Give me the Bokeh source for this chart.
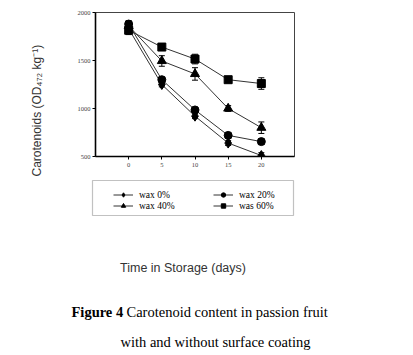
import numpy as np
from bokeh.plotting import figure
from bokeh.layouts import column
from bokeh.models import (ColumnDataSource, Whisker, TeeHead, Legend, LegendItem,
                          Label, FixedTicker, BoxAnnotation, Range1d, Title)
from bokeh.embed import file_html
from bokeh.resources import INLINE

days = [0, 5, 10, 15, 20]
wax0 = [1830, 1250, 920, 640, 510]
wax0_err = [40, 25, 25, 25, 30]
wax20 = [1880, 1300, 985, 720, 655]
wax20_err = [35, 25, 25, 25, 30]
wax40 = [1860, 1495, 1360, 1000, 800]
wax40_err = [40, 55, 65, 30, 60]
wax60 = [1815, 1640, 1515, 1300, 1260]
wax60_err = [45, 25, 50, 25, 60]
series_labels = ["wax 0%", "wax 20%", "wax 40%", "was 60%"]
series_markers = ["diamond", "circle", "triangle", "square"]
marker_sizes = [10, 8, 9, 8]
x_ticks = [0, 5, 10, 15, 20]
y_ticks = [500, 1000, 1500, 2000]

y_title = "Carotenoids (OD\u2084\u2087\u2082 kg\u207b\u00b9)"
x_title = "Time in Storage (days)"
cap_bold = "Figure 4"
cap_rest = "Carotenoid content in passion fruit"
cap_line2 = "with  and without surface coating"

SERIF = "Liberation Serif"
SANS = "Liberation Sans"

# ---------------- main chart ----------------
p = figure(width=413, height=178, x_range=(-5, 25), y_range=(500, 2000),
           output_backend="svg", toolbar_location=None, frame_align=False,
           min_border_left=92, min_border_right=119,
           min_border_top=12, min_border_bottom=22)
p.xgrid.visible = False
p.ygrid.visible = False
p.outline_line_color = "#444444"
p.outline_line_width = 1

for ax, ticks in ((p.xaxis, x_ticks), (p.yaxis, y_ticks)):
    ax.ticker = FixedTicker(ticks=ticks)
    ax.minor_tick_line_color = None
    ax.major_tick_in = 0
    ax.major_tick_out = 3
    ax.axis_line_width = 1.6
    ax.axis_line_color = "black"
    ax.major_tick_line_color = "black"
    ax.major_label_text_font = SERIF
    ax.major_label_text_font_size = "6.5px"
    ax.major_label_text_color = "#444444"
p.yaxis.major_label_standoff = 2
p.xaxis.major_label_standoff = 3

p.add_layout(Title(text=y_title, align="left", offset=-20, standoff=58,
                   vertical_align="top",
                   text_font=SANS, text_font_size="12px",
                   text_font_style="normal", text_color="#333333"), "left")

all_vals = [wax0, wax20, wax40, wax60]
all_errs = [wax0_err, wax20_err, wax40_err, wax60_err]
for vals, errs, mk, ms in zip(all_vals, all_errs, series_markers, marker_sizes):
    src = ColumnDataSource(dict(
        x=days, y=vals,
        upper=[v + e for v, e in zip(vals, errs)],
        lower=[v - e for v, e in zip(vals, errs)]))
    p.line("x", "y", source=src, line_color="#333333", line_width=1)
    p.add_layout(Whisker(base="x", upper="upper", lower="lower", source=src,
                         line_color="black", line_width=1,
                         upper_head=TeeHead(size=6, line_color="black", line_width=1),
                         lower_head=TeeHead(size=6, line_color="black", line_width=1)))
    p.scatter("x", "y", source=src, marker=mk, size=ms,
              fill_color="black", line_color="black")

# ---------------- lower panel: legend, axis title, caption ----------------
pb = figure(width=413, height=177, x_range=Range1d(0, 413), y_range=Range1d(177, 0),
            output_backend="svg", toolbar_location=None, frame_align=False,
            x_axis_location=None, y_axis_location=None,
            min_border_left=0, min_border_right=0, min_border_top=0, min_border_bottom=0)
pb.outline_line_color = None
pb.xgrid.visible = False
pb.ygrid.visible = False

# legend keys (renderers hold no visible points; they only supply the key glyphs)
items = []
for lab, mk, ms in zip(series_labels, series_markers, marker_sizes):
    key_src = ColumnDataSource(dict(x=[np.nan], y=[np.nan]))
    lr = pb.line("x", "y", source=key_src, line_color="#333333", line_width=1)
    sr = pb.scatter("x", "y", source=key_src, marker=mk, size=ms,
                    fill_color="black", line_color="black")
    items.append(LegendItem(label=lab, renderers=[lr, sr]))

pb.add_layout(BoxAnnotation(left=92, right=293, top=2, bottom=37,
                            fill_alpha=0, line_color="#333333", line_width=1.2))
legend = Legend(items=items, ncols=2, orientation="horizontal",
                location=(113, 144), padding=0, margin=0, spacing=0,
                border_line_color=None, background_fill_alpha=0,
                glyph_width=20, glyph_height=11, label_height=9,
                label_width=74, label_standoff=6,
                label_text_font=SERIF, label_text_font_size="9.5px",
                label_text_color="black")
pb.add_layout(legend)

pb.add_layout(Label(x=182.5, y=89, text=x_title,
                    text_align="center", text_baseline="middle",
                    text_font=SANS, text_font_size="12.5px", text_color="#333333"))
pb.add_layout(Label(x=71, y=133, text=cap_bold,
                    text_align="left", text_baseline="middle",
                    text_font=SERIF, text_font_size="14.5px", text_font_style="bold",
                    text_color="black"))
pb.add_layout(Label(x=126, y=133, text=cap_rest,
                    text_align="left", text_baseline="middle",
                    text_font=SERIF, text_font_size="14.5px", text_color="black"))
pb.add_layout(Label(x=120, y=163, text=cap_line2,
                    text_align="left", text_baseline="middle",
                    text_font=SERIF, text_font_size="14.5px", text_color="black"))

layout = column(p, pb, spacing=0)
open("out.html", "w").write(file_html(layout, INLINE))
